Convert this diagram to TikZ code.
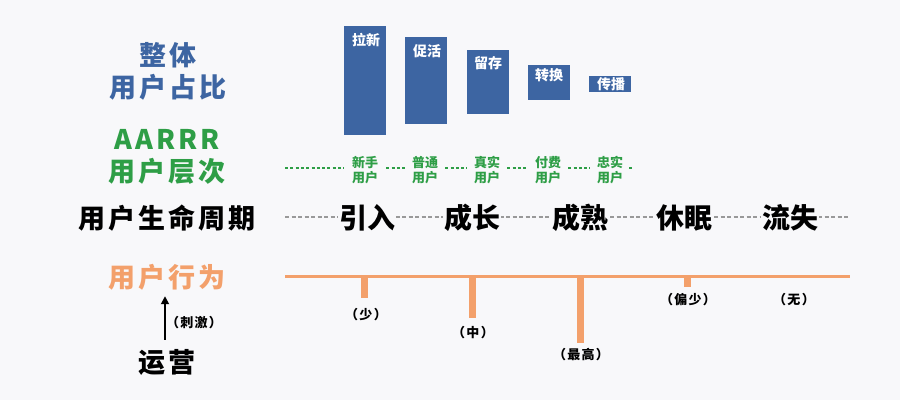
\documentclass[tikz,border=0pt]{standalone}
\usepackage{fontspec}
\setmainfont{Noto Sans CJK SC}
\newfontfamily\widefont{Noto Sans CJK SC}[LetterSpace=11]
\newfontfamily\smallwide{Noto Sans CJK SC}[LetterSpace=10]
\usetikzlibrary{arrows.meta}
\definecolor{bg}{HTML}{F8F8FA}
\definecolor{barblue}{HTML}{3D65A2}
\definecolor{grn}{HTML}{2E9E46}
\definecolor{org}{HTML}{F3A06B}
\definecolor{dgray}{HTML}{999999}
\begin{document}
\begin{tikzpicture}[x=1pt,y=-1pt,
  bar/.style={fill=barblue, draw=none, anchor=north west, inner sep=0pt, minimum width=42pt},
  barlbl/.style={text=white, font=\fontsize{14}{14}\selectfont\bfseries, anchor=west, inner sep=0pt},
  side/.style={font=\widefont\fontsize{27}{32}\selectfont\bfseries, align=center, inner sep=0pt},
  stage/.style={font=\fontsize{28}{28}\selectfont\bfseries, fill=bg, inner sep=1pt},
  lvl/.style={text=grn, font=\fontsize{13}{15.5}\selectfont\bfseries, align=center, inner sep=1pt},
  small/.style={font=\smallwide\fontsize{13}{13}\selectfont\bfseries, inner sep=0pt},
  dotl/.style={grn, line width=2.2pt, dash pattern=on 3pt off 2.3pt},
  dashl/.style={dgray, line width=2pt, dash pattern=on 4pt off 2.5pt},
  tickl/.style={org, line width=7pt},
]
\fill[bg] (0,0) rectangle (900,400);
\useasboundingbox (0,0) rectangle (900,400);

% left labels
\node[side, text=barblue] (share) at (168,71) {整体\\用户占比};
\node[side, text=grn, align=center] (aarrr) at (167,157) {AARRR\\用户层次};
\node[side] (life) at (167,218) {用户生命周期};
\node[side, text=org] (behav) at (167,277) {用户行为};
\node[side] (ops) at (167,362) {运营};
\node[small] (stim) at (194,323) {（刺激）};
\draw[-{Triangle[length=8pt,width=8pt]}, line width=1.8pt, shorten <=9pt, shorten >=6pt] (ops.north -| 165,0) -- (behav.south -| 165,0);

% bars
\node[bar, minimum height=109pt] (b1) at (344,26) {};
\node[bar, minimum height=87pt] (b2) at (405,37) {};
\node[bar, minimum height=64pt] (b3) at (467,50) {};
\node[bar, minimum height=35pt] (b4) at (528,65) {};
\node[bar, minimum height=16pt] (b5) at (589,76) {};
\node[barlbl] (l1) at (352,40) {拉新};
\node[barlbl] (l2) at (413,51) {促活};
\node[barlbl] (l3) at (474,63) {留存};
\node[barlbl] (l4) at (535,75) {转换};
\node[barlbl] (l5) at (597,84) {传播};

% AARRR levels
\node[lvl] (g1) at (365,170) {新手\\用户};
\node[lvl] (g2) at (425,170) {普通\\用户};
\node[lvl] (g3) at (487,170) {真实\\用户};
\node[lvl] (g4) at (548,170) {付费\\用户};
\node[lvl] (g5) at (610,170) {忠实\\用户};
\coordinate (gs) at (285,168);
\coordinate (ge) at (633,168);
\draw[dotl, shorten >=7pt] (gs) -- (g1.west |- gs);
\draw[dotl, shorten <=7pt, shorten >=6pt] (g1.east |- gs) -- (g2.west |- gs);
\draw[dotl, shorten <=6pt, shorten >=6pt] (g2.east |- gs) -- (g3.west |- gs);
\draw[dotl, shorten <=6pt, shorten >=6pt] (g3.east |- gs) -- (g4.west |- gs);
\draw[dotl, shorten <=6pt, shorten >=6pt] (g4.east |- gs) -- (g5.west |- gs);
\draw[dotl, shorten <=5pt] (g5.east |- gs) -- (ge);

% life cycle
\coordinate (ds) at (285,217);
\coordinate (de) at (850,217);
\draw[dashl] (ds) -- (de);
\node[stage] (s1) at (367,218) {引入};
\node[stage] (s2) at (472,218) {成长};
\node[stage] (s3) at (580,218) {成熟};
\node[stage] (s4) at (684,218) {休眠};
\node[stage] (s5) at (790,218) {流失};

% behaviour
\coordinate (os) at (285,276);
\coordinate (oe) at (850,276);
\draw[org, line width=3pt] (os) -- (oe);
\coordinate (t1) at (364.5,298);
\coordinate (t2) at (472,318);
\coordinate (t3) at (580,343);
\coordinate (t4) at (687,287);
\draw[tickl] (t1 |- os) -- (t1);
\draw[tickl] (t2 |- os) -- (t2);
\draw[tickl] (t3 |- os) -- (t3);
\draw[tickl] (t4 |- os) -- (t4);
\node[small] (a1) at (366,315) {（少）};
\node[small] (a2) at (473,333) {（中）};
\node[small] (a3) at (581,355) {（最高）};
\node[small] (a4) at (688,300) {（偏少）};
\node[small] (a5) at (794,300) {（无）};
\end{tikzpicture}
\end{document}
